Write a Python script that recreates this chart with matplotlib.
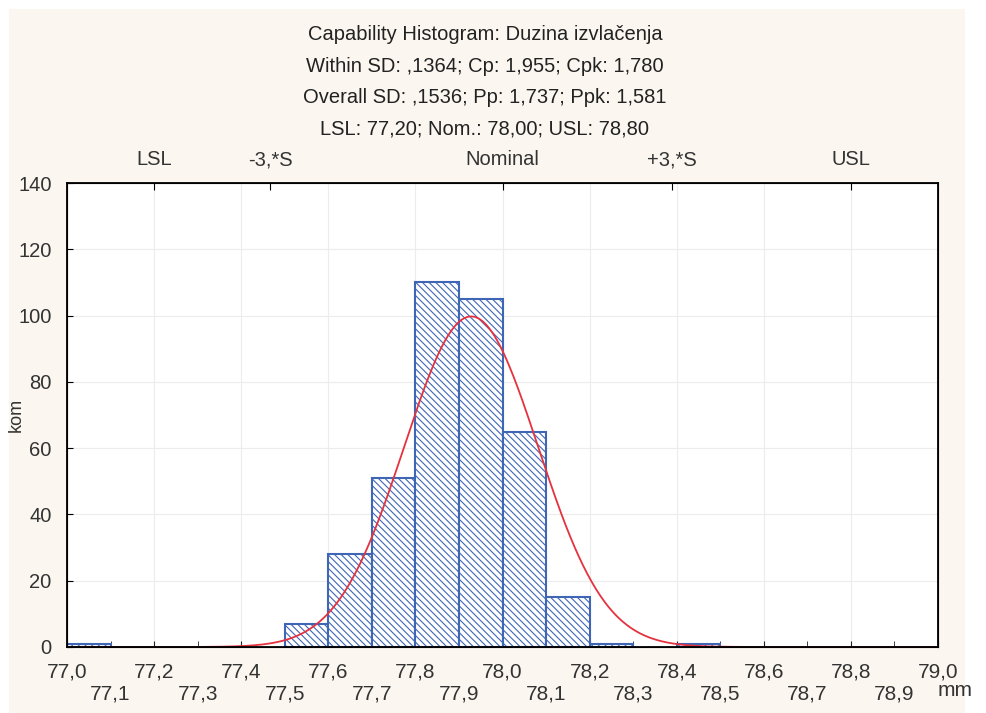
import numpy as np
import matplotlib
matplotlib.use('Agg')
import matplotlib.pyplot as plt
from matplotlib.patches import Rectangle

plt.rcParams['font.family'] = ['Liberation Sans', 'DejaVu Sans']
plt.rcParams['hatch.linewidth'] = 0.8

# histogram data (bin edges in mm, counts in pieces)
bin_left = [77.0, 77.1, 77.2, 77.3, 77.4, 77.5, 77.6, 77.7, 77.8, 77.9,
            78.0, 78.1, 78.2, 78.3, 78.4, 78.5, 78.6, 78.7, 78.8, 78.9]
counts = [1, 0, 0, 0, 0, 7, 28, 51, 110, 105, 65, 15, 1, 0, 1, 0, 0, 0, 0, 0]
bin_width = 0.1

# capability stats
mean = 77.928
sd_overall = 0.1536
lsl, nom, usl = 77.20, 78.00, 78.80

title_lines = ['Capability Histogram: Duzina izvlačenja',
               'Within SD: ,1364; Cp: 1,955; Cpk: 1,780',
               'Overall SD: ,1536; Pp: 1,737; Ppk: 1,581',
               'LSL: 77,20; Nom.: 78,00; USL: 78,80']
top_names = ['LSL', '-3,*S', 'Nominal', '+3,*S', 'USL']

bg = '#fbf7f0'
blue = '#3f66b5'
red = '#e5323f'

fig = plt.figure(figsize=(9.87, 7.13), dpi=100)
fig.patch.set_facecolor('white')
fig.patches.append(Rectangle((9 / 987, 0), (965 - 9) / 987, 1 - 9 / 713,
                             transform=fig.transFigure, facecolor=bg,
                             edgecolor='none', zorder=-10))

ax = fig.add_axes([67 / 987, 1 - 647 / 713, (938 - 67) / 987, (647 - 183) / 713])
ax.set_facecolor('white')

# bars (empty bins are not drawn)
left = np.array(bin_left)
h = np.array(counts)
m = h > 0
ax.bar(left[m], h[m], width=bin_width, align='edge', facecolor='white',
       edgecolor=blue, linewidth=1.5, hatch='\\\\\\\\\\', zorder=2)

# fitted normal curve
n = sum(counts)
xs = np.linspace(77.0, 79.0, 600)
ys = n * bin_width / (sd_overall * np.sqrt(2 * np.pi)) * np.exp(-0.5 * ((xs - mean) / sd_overall) ** 2)
ax.plot(xs, ys, color=red, lw=1.3, zorder=2.2)

ax.set_xlim(77.0, 79.0)
ax.set_ylim(0, 140)
for sp in ax.spines.values():
    sp.set_linewidth(1.3)
    sp.set_zorder(3)

major = np.round(np.arange(77.0, 79.01, 0.2), 1)
minor = np.round(np.arange(77.1, 79.0, 0.2), 1)
ax.set_xticks(major, [f'{v:.1f}'.replace('.', ',') for v in major])
ax.set_xticks(minor, [f'{v:.1f}'.replace('.', ',') for v in minor], minor=True)
ax.tick_params(axis='x', which='both', direction='in', length=4, labelsize=15,
               colors='#222222', labelcolor='#333333')
ax.tick_params(axis='x', which='major', pad=11)
ax.tick_params(axis='x', which='minor', pad=27)
ax.set_yticks(np.arange(0, 141, 20))
ax.tick_params(axis='y', direction='in', length=4, labelsize=14.5, labelcolor='#333333', pad=11)
ax.grid(True, which='major', color='#ececec', lw=0.8, zorder=0)
ax.set_axisbelow(True)

# top axis with spec markers
ax2 = ax.twiny()
ax2.set_xlim(ax.get_xlim())
top_pos = [lsl, mean - 3 * sd_overall, nom, mean + 3 * sd_overall, usl]
ax2.set_xticks(top_pos, top_names)
ax2.tick_params(axis='x', direction='in', length=5, labelsize=14.5, pad=10, labelcolor='#333333')

for i, t in enumerate(title_lines):
    fig.text(485 / 987, 1 - (35 + 31.3 * i) / 713, t, ha='center', va='center',
             fontsize=14.5, color='#222222')

fig.text(955 / 987, 1 - 690 / 713, 'mm', ha='center', va='center', fontsize=15, color='#333333')
fig.text(16 / 987, 1 - 415 / 713, 'kom', ha='center', va='center', rotation=90,
         fontsize=13, color='#333333')

fig.savefig('out.png', dpi=100, facecolor=fig.get_facecolor())
